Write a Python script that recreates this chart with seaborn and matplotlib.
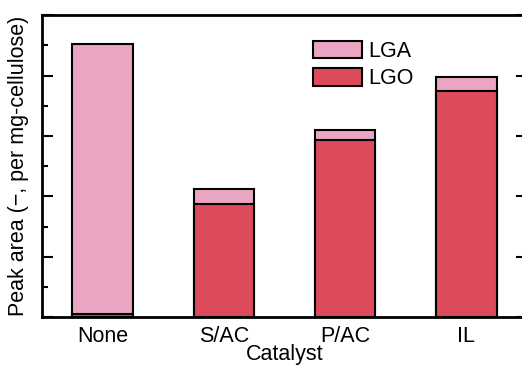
import matplotlib
matplotlib.use("Agg")
import matplotlib.pyplot as plt
import seaborn as sns
import pandas as pd
from matplotlib.patches import Patch
from matplotlib.ticker import MultipleLocator, NullFormatter

# Peak areas per mg of cellulose, split by product
catalysts = ["None", "S/AC", "P/AC", "IL"]
lgo = [0.05, 1.88, 2.94, 3.75]
lga = [4.47, 0.25, 0.16, 0.22]

LGA_COLOR = "#E9A5C2"
LGO_COLOR = "#DC4A5C"
FS = 15.5

sns.set_theme(style="white")
plt.rcParams["font.family"] = ["Liberation Sans", "DejaVu Sans"]
plt.rcParams["font.size"] = FS
plt.rcParams["text.color"] = "black"
plt.rcParams["axes.labelcolor"] = "black"
plt.rcParams["xtick.color"] = "black"
plt.rcParams["ytick.color"] = "black"

df = pd.DataFrame({"Catalyst": catalysts, "LGO": lgo, "LGA": lga})
df["Total"] = df["LGO"] + df["LGA"]

fig = plt.figure(figsize=(5.22, 3.67), dpi=100)
ax = fig.add_axes([0.0805, 0.135, 0.929, 0.824])

# stacked bars: full height in LGA colour, LGO portion drawn over it
sns.barplot(data=df, x="Catalyst", y="Total", color=LGA_COLOR, width=0.5,
            edgecolor="black", linewidth=1.5, saturation=1, ax=ax)
sns.barplot(data=df, x="Catalyst", y="LGO", color=LGO_COLOR, width=0.5,
            edgecolor="black", linewidth=1.5, saturation=1, ax=ax)

ax.set_xlim(-0.5, 3.5)
ax.set_ylim(0, 5)
ax.yaxis.set_major_locator(MultipleLocator(1))
ax.yaxis.set_minor_locator(MultipleLocator(0.5))
ax.yaxis.set_major_formatter(NullFormatter())
ax.tick_params(axis="y", which="major", direction="in", length=8, width=1.5,
               left=True, right=True)
ax.tick_params(axis="y", which="minor", direction="in", length=4.3, width=1.5,
               left=True, right=False)
ax.tick_params(axis="x", length=0, pad=6, labelsize=FS, colors="black")

for s in ax.spines.values():
    s.set_linewidth(2)
    s.set_color("black")

ax.set_xlabel("Catalyst", fontsize=FS, labelpad=-2)
ax.set_ylabel("Peak area (\u2212, per mg-cellulose)", fontsize=FS, labelpad=6)

handles = [Patch(facecolor=LGA_COLOR, edgecolor="black", linewidth=1.5, label="LGA"),
           Patch(facecolor=LGO_COLOR, edgecolor="black", linewidth=1.5, label="LGO")]
fig.legend(handles=handles, loc="upper left", bbox_to_anchor=(313 / 522, 1 - 41 / 367),
           frameon=False, fontsize=FS, handlelength=2.28, handleheight=0.84,
           handletextpad=0.3, labelspacing=0.3, borderpad=0, borderaxespad=0)

fig.savefig("out.png", dpi=100)
